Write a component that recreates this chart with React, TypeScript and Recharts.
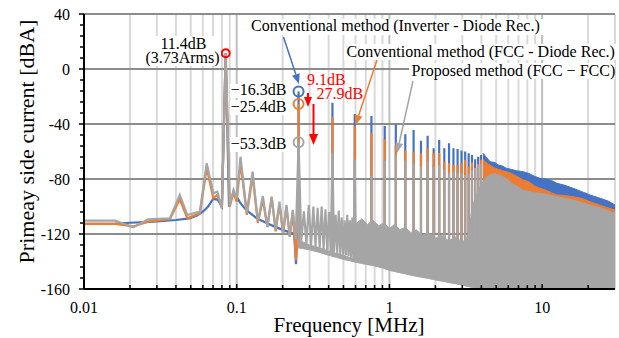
import React from 'react';
import { ComposedChart, Area, Scatter, XAxis, YAxis, CartesianGrid } from 'recharts';

// ---------- data ----------
const FUNDAMENTAL_MHZ = 0.0847;          // switching fundamental
const SUB_STEP_MHZ = FUNDAMENTAL_MHZ / 4; // sub-harmonic comb spacing
const FLOOR_DB = -160;

const xTicks = [0.01, 0.02, 0.03, 0.04, 0.05, 0.06, 0.07, 0.08, 0.09, 0.1, 0.2, 0.3, 0.4, 0.5, 0.6, 0.7, 0.8, 0.9, 1, 2, 3, 4, 5, 6, 7, 8, 9, 10, 20];
const xLabelled = [0.01, 0.1, 1, 10];
const xMinorGrid = [0.02, 0.03, 0.04, 0.05, 0.06, 0.07, 0.08, 0.09, 0.2, 0.3, 0.4, 0.5, 0.6, 0.7, 0.8, 0.9, 2, 3, 4, 5, 6, 7, 8, 9, 20, 30];
const xMajorGrid = [0.1, 1, 10];
const yTicks = [-160, -152, -144, -136, -128, -120, -112, -104, -96, -88, -80, -72, -64, -56, -48, -40, -32, -24, -16, -8, 0, 8, 16, 24, 32, 40];
const yLabelled = [-160, -120, -80, -40, 0, 40];
const yGrid = [-120, -80, -40, 0, 40];

// Low-frequency traces
const blueTraceF = [0.01, 0.016, 0.02, 0.025, 0.03, 0.04, 0.049, 0.055, 0.06, 0.065, 0.07, 0.075, 0.08, 0.0847, 0.089, 0.094, 0.1, 0.105, 0.112, 0.119, 0.135, 0.157, 0.18, 0.2, 0.225, 0.238, 0.2445, 0.249];
const blueTraceDb = [-112.7, -112.5, -111.8, -111.3, -110.8, -109.8, -108.6, -106.5, -103.8, -100, -94.5, -95, -100, 11.4, -100, -91.6, -92.9, -97, -101, -103.8, -108.5, -112, -115, -117, -119, -120, -142, -121];

const orangeTraceF = [0.01, 0.016, 0.021, 0.0263, 0.0365, 0.0424, 0.0475, 0.0574, 0.0636, 0.0703, 0.0747, 0.08, 0.0847, 0.09, 0.0953, 0.1, 0.1059, 0.1165, 0.1271, 0.1376, 0.1482, 0.1588, 0.1694, 0.18, 0.1906, 0.2012, 0.2118, 0.2224, 0.2329, 0.2445, 0.249];
const orangeTraceDb = [-112.7, -112.7, -114.5, -111, -109.3, -94.8, -108.6, -105, -72, -94, -91.6, -101, 11.4, -100, -90, -96.5, -68, -106, -78, -112, -95, -115, -92.9, -118, -98, -120, -100, -122, -104, -139, -123];

const grayTraceF = [0.01, 0.016, 0.021, 0.0263, 0.0365, 0.0424, 0.0475, 0.0574, 0.0636, 0.0703, 0.0747, 0.08, 0.0847, 0.09, 0.0953, 0.1];
const grayTraceDb = [-110.3, -110.3, -115.2, -109.3, -108.6, -91.6, -106.2, -103.7, -68.6, -90.4, -89.2, -101.3, 11.4, -99, -88, -94];

// Gray sub-harmonic comb, orders k = 5 .. 28 of SUB_STEP
const COMB_K0 = 5;
const grayCombPeakDb = [-63.8, -74.7, -92.4, -93.3, -96.5, -98.9, -102.5, -53.3, -103.6, -99, -100, -101, -100, -102, -104, -61, -106, -103, -108, -110, -106, -110, -108, -66];
const grayCombValleyDb = [-104.8, -111, -114.7, -117, -119.5, -122, -124, -125, -127, -128, -129, -130, -131, -132, -132.5, -133, -134, -134.5, -135, -135.5, -136, -137, -137.5, -138];

// Odd harmonics of the fundamental
const harmonicOrders = [3, 5, 7, 9, 11, 13, 15, 17, 19, 21, 23, 25, 27, 29, 31, 33, 35, 37, 39, 41, 43, 45, 47];
const blueHarmDb = [-16.3, -24.5, -32.7, -34.2, -41.5, -40.2, -47.5, -44.4, -52.1, -48.5, -57.7, -51.6, -57.7, -54, -57.7, -58.1, -59.3, -60, -61.3, -62.5, -65.7, -63.8, -62.5];
const orangeHarmDb = [-25.4, -34.7, -41.5, -46.3, -51.1, -55.3, -59, -60.1, -61.3, -57.7, -60.9, -61, -67.4, -68.6, -69.8, -69.8, -68.6, -66.2, -71, -68, -72, -69, -66];
const grayHarmDb = [-53.3, -61, -66, -77.8, -66.7, -62.5, -66.7, -68.6, -71, -67.4, -71, -69.8, -73.5, -75.8, -74.7, -75.8, -76, -77, -76, -74, -72, -70, -69];
const harmBaseDb = [-127, -134, -139.5, -141.5, -143.5, -145, -146.5, -148, -149, -150, -151, -152, -153, -154, -154.5, -155, -155.5, -156, -156.5, -157, -157.5, -158, -158.5];

// Dense noise band (proposed method) : lower / upper edge
const bandF = [0.25, 0.3, 0.35, 0.4, 0.45, 0.5, 0.55, 0.6, 0.61, 0.66, 0.72, 0.78, 0.85, 0.92, 1.0, 1.08, 1.17, 1.27, 1.38, 1.5, 1.65, 1.8, 2.0, 2.2, 2.45, 2.7, 3.0, 3.3, 3.45, 3.6, 3.8, 4.0, 4.1, 4.3, 4.56, 4.9, 5.2, 5.5, 5.86, 6.3, 6.8, 7.53, 8.2, 8.9, 9.68, 10.5, 11.5, 12.5, 14, 16, 18, 20.6, 24, 27, 30];
const bandLoDb = [-130, -131.5, -133.5, -135.5, -137, -138.5, -139.5, -140.5, -140.7, -141.5, -142.3, -143, -144, -145, -146.5, -147.3, -148.2, -149, -150, -150.8, -151.6, -152.4, -153.4, -154.3, -155.3, -156.2, -157.3, -158.3, -158.8, -159.3, -159.8, -160, -160, -160, -160, -160, -160, -160, -160, -160, -160, -160, -160, -160, -160, -160, -160, -160, -160, -160, -160, -160, -160, -160, -160];
const bandHiDb = [-124, -128, -130, -132.5, -134, -135.5, -137, -138, -112, -109, -113, -110, -114, -112, -116, -113, -117, -115, -119, -117, -121, -119, -123, -121, -125, -122, -126, -121, -104, -95, -88, -84, -82, -79, -77, -76, -77, -78, -80, -83, -85, -88, -89, -90, -90.4, -91, -92, -92.9, -94, -95.3, -97, -98.9, -101, -103, -104.9];

// Dense upper envelopes above 4 MHz
const envF = [4.1, 4.3, 4.56, 4.9, 5.2, 5.5, 5.86, 6.3, 6.8, 7.53, 8.2, 8.9, 9.68, 10.5, 11.5, 12.5, 14, 16, 18, 20.6, 24, 27, 30];
const blueEnvDb = [-61.3, -64, -67.4, -68, -70, -70.5, -72.3, -73, -74, -74.7, -76, -78, -79.5, -80, -81, -83.1, -84.5, -86.8, -89, -91.6, -94, -96, -98.9];
const orangeEnvDb = [-66, -68, -70, -72, -73, -74, -74.7, -76, -78, -80.7, -82, -85, -86.8, -88, -90, -91.6, -92, -92.9, -94, -96.5, -99, -101, -102.5];

// Markers
const markerFundamental = [{ f: FUNDAMENTAL_MHZ, v: 11.4 }];
const markerBlue = [{ f: 3 * FUNDAMENTAL_MHZ, v: -16.3 }];
const markerOrange = [{ f: 3 * FUNDAMENTAL_MHZ, v: -25.4 }];
const markerGray = [{ f: 3 * FUNDAMENTAL_MHZ, v: -53.3 }];

// ---------- build series ----------
const pts = (fs: number[], vs: number[]) => fs.map((f, i) => ({ f, v: vs[i] }));
const spikes = (peaks: number[]) =>
  harmonicOrders.flatMap((n, i) => {
    const f = n * FUNDAMENTAL_MHZ;
    return [{ f, v: harmBaseDb[i] }, { f, v: peaks[i] }, { f, v: harmBaseDb[i] }];
  });
const blueLine = [...pts(blueTraceF, blueTraceDb), ...spikes(blueHarmDb)];
const orangeLine = [...pts(orangeTraceF, orangeTraceDb), ...spikes(orangeHarmDb)];
const grayComb = grayCombPeakDb.flatMap((p, i) => [
  { f: (COMB_K0 + i) * SUB_STEP_MHZ, v: p },
  { f: (COMB_K0 + i + 0.5) * SUB_STEP_MHZ, v: grayCombValleyDb[i] },
]);
const grayLine = [...pts(grayTraceF, grayTraceDb), ...grayComb];
const graySpikes = spikes(grayHarmDb);
const grayBand = bandF.map((f, i) => ({ f, r: [bandLoDb[i], bandHiDb[i]] }));
const blueEnv = envF.map((f, i) => ({ f, r: [FLOOR_DB, blueEnvDb[i]] }));
const orangeEnv = envF.map((f, i) => ({ f, r: [FLOOR_DB, orangeEnvDb[i]] }));

// ---------- styling ----------
const FONT = "'Liberation Serif', 'Times New Roman', serif";
const BLUE = '#4472C4';
const ORANGE = '#ED7D31';
const GRAY = '#A5A5A5';
const RED = '#FF0000';

function XTick(props: any) {
  const { x, y, payload } = props;
  const major = xLabelled.includes(payload.value);
  return (
    <g>
      <line x1={x} y1={y} x2={x} y2={y - (major ? 5 : 4)} stroke="#000" strokeWidth={1.5} />
      {major && (
        <text x={x} y={y + 24} textAnchor="middle" fontSize={16} fontFamily={FONT} fill="#000">
          {String(payload.value)}
        </text>
      )}
    </g>
  );
}

function YTick(props: any) {
  const { x, y, payload } = props;
  const major = yLabelled.includes(payload.value);
  return (
    <g>
      <line x1={x - (major ? 5 : 4)} y1={y} x2={x} y2={y} stroke="#000" strokeWidth={1.5} />
      {major && (
        <text x={x - 14} y={y + 5.5} textAnchor="end" fontSize={16} fontFamily={FONT} fill="#000">
          {String(payload.value)}
        </text>
      )}
    </g>
  );
}

const ring = (color: string, r: number) => (p: any) => (
  <circle cx={p.cx} cy={p.cy} r={r} fill="none" stroke={color} strokeWidth={2} />
);

function Arrow({ x1, y1, x2, y2, color, w = 1.5, head = 10, half = 4 }: any) {
  const dx = x2 - x1;
  const dy = y2 - y1;
  const L = Math.hypot(dx, dy);
  const ux = dx / L;
  const uy = dy / L;
  const bx = x2 - ux * head;
  const by = y2 - uy * head;
  const px = -uy * half;
  const py = ux * half;
  return (
    <g>
      <line x1={x1} y1={y1} x2={bx} y2={by} stroke={color} strokeWidth={w} />
      <polygon points={`${x2},${y2} ${bx + px},${by + py} ${bx - px},${by - py}`} fill={color} />
    </g>
  );
}

const lineProps = { type: 'linear' as const, isAnimationActive: false, dot: false, activeDot: false, fill: 'none' };

export default function App() {
  return (
    <div style={{ position: 'absolute', left: 0, top: 0, width: 619, height: 338, background: '#fff' }}>
      <ComposedChart width={619} height={338} margin={{ top: 14, right: 4, bottom: 0, left: 0 }}>
        <CartesianGrid horizontal={false} verticalValues={xMinorGrid} stroke="#D9D9D9" strokeWidth={2} />
        <CartesianGrid horizontal={false} verticalValues={xMajorGrid} stroke="#BFBFBF" strokeWidth={2} />
        <CartesianGrid vertical={false} horizontalValues={yGrid} stroke="#8C8C8C" strokeWidth={2} />
        <XAxis
          type="number"
          dataKey="f"
          scale="log"
          domain={[0.01, 30]}
          allowDataOverflow
          ticks={xTicks}
          interval={0}
          tick={<XTick />}
          tickLine={false}
          tickSize={0}
          tickMargin={0}
          height={49}
          axisLine={{ stroke: '#000', strokeWidth: 2 }}
        />
        <YAxis
          type="number"
          dataKey="v"
          domain={[-160, 40]}
          allowDataOverflow
          ticks={yTicks}
          interval={0}
          tick={<YTick />}
          tickLine={false}
          tickSize={0}
          tickMargin={0}
          width={84}
          axisLine={{ stroke: '#000', strokeWidth: 2 }}
        />
        <Area {...lineProps} data={blueLine} dataKey="v" stroke={BLUE} strokeWidth={2.2} />
        <Area type="linear" isAnimationActive={false} data={blueEnv} dataKey="r" stroke={BLUE} strokeWidth={1} fill={BLUE} fillOpacity={1} dot={false} activeDot={false} />
        <Area {...lineProps} data={orangeLine} dataKey="v" stroke={ORANGE} strokeWidth={2.2} />
        <Area type="linear" isAnimationActive={false} data={orangeEnv} dataKey="r" stroke={ORANGE} strokeWidth={1} fill={ORANGE} fillOpacity={1} dot={false} activeDot={false} />
        <Area type="linear" isAnimationActive={false} data={grayBand} dataKey="r" stroke={GRAY} strokeWidth={1} fill={GRAY} fillOpacity={1} dot={false} activeDot={false} />
        <Area {...lineProps} data={grayLine} dataKey="v" stroke={GRAY} strokeWidth={2.2} />
        <Area {...lineProps} data={graySpikes} dataKey="v" stroke={GRAY} strokeWidth={2} />
        <Scatter data={markerFundamental} fill={RED} shape={ring(RED, 4)} isAnimationActive={false} />
        <Scatter data={markerBlue} fill={BLUE} shape={ring(BLUE, 5)} isAnimationActive={false} />
        <Scatter data={markerOrange} fill={ORANGE} shape={ring(ORANGE, 5)} isAnimationActive={false} />
        <Scatter data={markerGray} fill={GRAY} shape={ring(GRAY, 5)} isAnimationActive={false} />
      </ComposedChart>
      <svg width={619} height={338} style={{ position: 'absolute', left: 0, top: 0, pointerEvents: 'none' }} fontFamily={FONT}>
        {/* axis titles */}
        <text x={349} y={332} textAnchor="middle" fontSize={21} fill="#000">Frequency [MHz]</text>
        <text transform="rotate(-90)" x={-141.5} y={26} textAnchor="middle" dominantBaseline="central" fontSize={22} fill="#000">
          Primeay side current [dBA]
        </text>
        {/* series labels */}
        <rect x={248} y={19} width={296} height={16} fill="#fff" />
        <text x={251} y={31} fontSize={16} fill="#000">Conventional method (Inverter - Diode Rec.)</text>
        <rect x={344} y={44} width={272} height={16} fill="#fff" />
        <text x={346.5} y={56.5} fontSize={16} fill="#000">Conventional method (FCC - Diode Rec.)</text>
        <rect x={409} y={63} width={206} height={16} fill="#fff" />
        <text x={411.5} y={76} fontSize={16} fill="#000">Proposed method (FCC − FCC)</text>
        {/* fundamental */}
        <rect x={145} y={36} width={76} height={30} fill="#fff" />
        <text x={183.5} y={48.5} textAnchor="middle" fontSize={16} fill="#000">11.4dB</text>
        <text x={182.5} y={62.5} textAnchor="middle" fontSize={16} fill="#000">(3.73Arms)</text>
        {/* 3rd harmonic values */}
        <rect x={230} y={84} width={58} height={14} fill="#fff" />
        <text x={286.5} y={95} textAnchor="end" fontSize={16} fill="#000">−16.3dB</text>
        <rect x={230} y={100} width={58} height={15} fill="#fff" />
        <text x={286.5} y={112} textAnchor="end" fontSize={16} fill="#000">−25.4dB</text>
        <rect x={230} y={137} width={58} height={15} fill="#fff" />
        <text x={286.5} y={149} textAnchor="end" fontSize={16} fill="#000">−53.3dB</text>
        <text x={307} y={84.5} fontSize={16} fill={RED}>9.1dB</text>
        <text x={316.5} y={99} fontSize={16} fill={RED}>27.9dB</text>
        {/* arrows */}
        <Arrow x1={283.5} y1={37} x2={299} y2={84} color={BLUE} />
        <Arrow x1={377} y1={60} x2={355.5} y2={125} color={ORANGE} />
        <Arrow x1={413} y1={81} x2={397} y2={153} color={GRAY} />
        <Arrow x1={308} y1={93} x2={308} y2={107} color={RED} w={2} head={10} half={4} />
        <Arrow x1={313.5} y1={104} x2={313.5} y2={145} color={RED} w={2} head={11} half={4.5} />
      </svg>
    </div>
  );
}
